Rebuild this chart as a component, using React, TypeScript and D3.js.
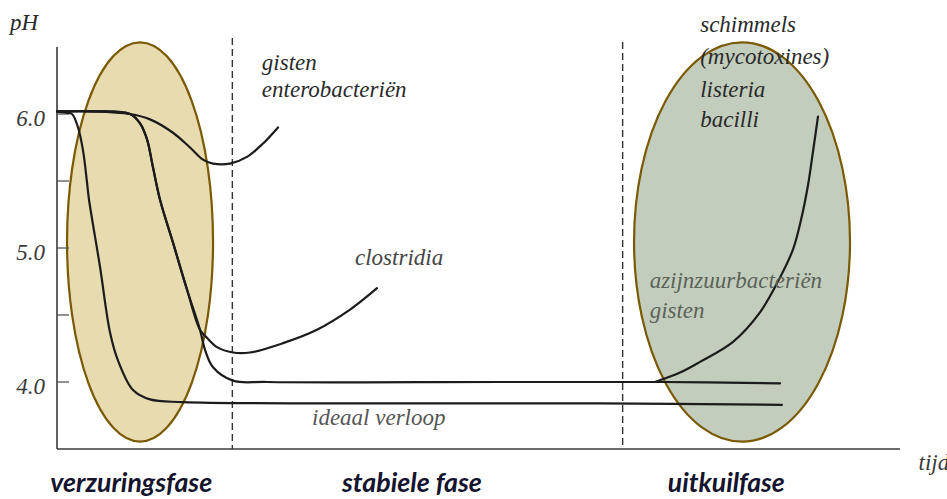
import React from "react";
import { scaleLinear, line as d3line, curveCatmullRom } from "d3";

// pH over time during ensiling (schematic)
const timeDomain = [0, 100];
const phDomain = [3.5, 6.5];
const phTicks = [4.0, 5.0, 6.0];
const phMinorTicks = [4.5, 5.5];
const phaseBounds = [20.8, 67.1];
const phaseNames = ["verzuringsfase", "stabiele fase", "uitkuilfase"];
const phaseCenters = [8.8, 42.1, 79.4];

// [t, pH]
const ideaalVerloop = [
  [0, 6.02], [1.07, 6.01], [1.78, 6.0], [2.49, 5.9], [3.08, 5.73], [3.56, 5.49],
  [3.8, 5.36], [5.1, 4.86], [6.29, 4.37], [7.24, 4.16], [9.02, 3.94], [11.03, 3.87],
  [14.95, 3.85], [40.7, 3.84], [64.4, 3.84], [86.0, 3.83],
];
const normaalVerloop = [
  [0, 6.02], [4.5, 6.02], [8.66, 6.0], [9.85, 5.93], [10.68, 5.81], [11.39, 5.6],
  [12.22, 5.36], [13.76, 5.04], [15.42, 4.69], [16.96, 4.39], [17.56, 4.24],
  [18.51, 4.11], [20.88, 4.01], [24.91, 4.0], [52.55, 4.0], [71.89, 4.0], [85.77, 3.99],
];
const gistenEnterobacterien = [
  [0, 6.02], [4.5, 6.02], [8.66, 6.0], [11.03, 5.96], [13.76, 5.86], [15.78, 5.75],
  [17.32, 5.66], [18.51, 5.63], [20.52, 5.63], [22.54, 5.68], [24.44, 5.78], [26.22, 5.9],
];
const clostridia = [
  [0, 6.02], [4.5, 6.02], [8.66, 6.0], [9.85, 5.93], [10.68, 5.81], [11.39, 5.6],
  [12.22, 5.36], [13.76, 5.04], [15.42, 4.69], [16.96, 4.39], [17.79, 4.33],
  [18.98, 4.26], [20.88, 4.22], [22.89, 4.22], [26.81, 4.29], [30.84, 4.39],
  [34.76, 4.54], [37.96, 4.7],
];
const schimmels = [
  [70.94, 4.0], [73.9, 4.07], [76.27, 4.15], [80.19, 4.3], [83.39, 4.52], [85.77, 4.78],
  [87.31, 4.99], [88.26, 5.21], [89.09, 5.47], [89.68, 5.72], [90.27, 5.98],
];

// ellipses: center t, center pH, radius t, radius pH
const highlightLeft = [9.85, 5.045, 8.66, 1.49];
const highlightRight = [81.26, 5.045, 12.81, 1.49];

const W = 947;
const H = 499;

export default function App() {
  const x = scaleLinear().domain(timeDomain).range([57, 900]);
  const y = scaleLinear().domain(phDomain).range([449, 47]);
  const line = d3line<number[]>()
    .x((d) => x(d[0]))
    .y((d) => y(d[1]))
    .curve(curveCatmullRom.alpha(0.5));

  const ink = "#1c1c1c";

  const ellipse = (e: number[], fill: string) => (
    <ellipse
      cx={x(e[0])}
      cy={y(e[1])}
      rx={x(e[0] + e[2]) - x(e[0])}
      ry={y(e[1] - e[3]) - y(e[1])}
      fill={fill}
      stroke="#7a5a00"
      strokeWidth={2.2}
    />
  );

  const serifStyle = { fontFamily: "Liberation Serif", fontStyle: "italic", fontSize: 23 } as React.CSSProperties;

  const label = (txt: string, t: number, ph: number, color = "#2a2a2a") => (
    <text x={x(t)} y={y(ph)} style={serifStyle} fill={color}>
      {txt}
    </text>
  );

  const phaseWidths = [162, 140, 117];

  return (
    <div style={{ position: "absolute", left: 0, top: 0, width: W, height: H, background: "#fff" }}>
      <svg width={W} height={H} style={{ display: "block" }}>
        {ellipse(highlightLeft, "#e8dbb0")}
        {ellipse(highlightRight, "#c3cdbd")}

        {/* axes */}
        <line x1={x(0)} x2={x(0)} y1={y(6.5)} y2={y(3.5)} stroke="#3a3a3a" strokeWidth={1.6} />
        <line x1={x(0)} x2={x(100)} y1={y(3.5)} y2={y(3.5)} stroke="#3a3a3a" strokeWidth={1.6} />
        {phTicks.concat(phMinorTicks).map((v, i) => (
          <line key={i} x1={x(0)} x2={x(0) + 12} y1={y(v)} y2={y(v)} stroke="#555" strokeWidth={1.3} />
        ))}
        {phTicks.map((v, i) => (
          <text key={i} x={x(0) - 12} y={y(v) + 4} dy="0.35em" textAnchor="end" style={serifStyle} fill="#3a3a3a">
            {v.toFixed(1)}
          </text>
        ))}
        <text x={x(0) - 47} y={y(6.5) - 17} style={serifStyle} fill="#2a2a2a">
          pH
        </text>
        <text x={x(102.2)} y={y(3.34)} style={serifStyle} fill="#3a3a3a">
          tijd
        </text>

        {/* phase boundaries */}
        {phaseBounds.map((b, i) => (
          <line
            key={i}
            x1={x(b)}
            x2={x(b)}
            y1={i === 0 ? 38 : 42}
            y2={y(3.5)}
            stroke="#333"
            strokeWidth={1.4}
            strokeDasharray="7,4"
          />
        ))}

        {/* curves */}
        {[ideaalVerloop, normaalVerloop, gistenEnterobacterien, clostridia, schimmels].map((s, i) => (
          <path key={i} d={line(s) || ""} fill="none" stroke={ink} strokeWidth={2.2} strokeLinecap="round" />
        ))}

        {/* annotations */}
        {label("gisten", 24.3, 6.33)}
        {label("enterobacteriën", 24.3, 6.13)}
        {label("clostridia", 35.35, 4.87, "#444")}
        {label("schimmels", 76.3, 6.61)}
        {label("(mycotoxines)", 76.3, 6.37)}
        {label("listeria", 76.3, 6.13)}
        {label("bacilli", 76.3, 5.9)}
        {label("azijnzuurbacteriën", 70.3, 4.7, "#5c6258")}
        {label("gisten", 70.3, 4.48, "#5c6258")}
        {label("ideaal verloop", 30.25, 3.68, "#555")}

        {/* phase names */}
        {phaseNames.map((p, i) => (
          <text
            key={i}
            x={x(phaseCenters[i])}
            y={492}
            textAnchor="middle"
            style={{ fontFamily: "Lato", fontWeight: "bold", fontStyle: "italic", fontSize: 26 }}
            fill="#14142e"
            textLength={phaseWidths[i]}
            lengthAdjust="spacingAndGlyphs"
          >
            {p}
          </text>
        ))}
      </svg>
    </div>
  );
}
